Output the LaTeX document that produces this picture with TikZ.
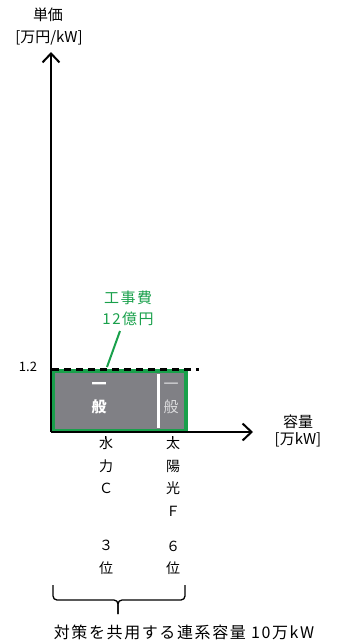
\documentclass[tikz,border=0pt]{standalone}
\usepackage{fontspec}
\setmainfont{Noto Sans CJK JP}
\newfontfamily\jpwide[LetterSpace=10]{Noto Sans CJK JP}
\usetikzlibrary{arrows.meta}
\definecolor{kojigreen}{RGB}{25,160,75}
\definecolor{blockgray}{RGB}{128,128,133}
\definecolor{palewhite}{RGB}{220,220,222}

\begin{document}
\begin{tikzpicture}[x=1pt,y=-1pt,
  lbl/.style={font=\fontsize{15}{18}\selectfont,inner sep=0pt,align=center},
  small/.style={font=\fontsize{13}{15}\selectfont,inner sep=0pt},
  col/.style={font=\jpwide\fontsize{14}{22.5}\selectfont,inner sep=0pt,align=center,anchor=north},
  axis/.style={line width=2.2pt,-{Straight Barb[length=9pt,width=17pt,line width=2pt]}},
  inblock/.style={font=\bfseries\fontsize{15}{23}\selectfont,inner sep=0pt,align=center}]

\useasboundingbox (0,0) rectangle (341,641);

\coordinate (O) at (51,432);
\coordinate (ytop) at (51,52);
\coordinate (xend) at (253,432);

% bid block
\draw[kojigreen,line width=4pt,fill=blockgray] (53,371) rectangle (186,431);
\draw[white,line width=3pt] (158,374) -- (158,428);
\draw[line width=2.5pt,dash pattern=on 7pt off 5pt] (52,369.5) -- (199,369.5);

\draw[axis] (O) -- (ytop);
\draw[axis] (O) -- (xend);
\draw[line width=0.8pt] (105,436) -- (105,439);
\draw[line width=0.8pt] (172,436) -- (172,439);

\node[lbl] (vname) at (48,15) {単価};
\node[lbl] (vunit) at (49,38) {[万円/kW]};
\node[lbl] (hname) at (298,422) {容量};
\node[lbl] (hunit) at (298,440) {[万kW]};
\node[small] (price) at (28,367) {1.2};

\node[inblock,white] (blockA) at (99,398) {一\\般};
\node[inblock,palewhite,font=\fontsize{15}{23}\selectfont] (blockB) at (171,398) {一\\般};

\node[lbl,kojigreen,font=\jpwide\fontsize{15}{21}\selectfont] (cost) at (128,308) {工事費\\12億円};
\coordinate (costend) at (107,367);
\draw[kojigreen,line width=2pt] (120,331) -- (costend);

\node[col] (hydro) at (106,437) {水\\力\\Ｃ\\[34.5pt]３\\位};
\node[col] (solar) at (173,437) {太\\陽\\光\\Ｆ\\[12.5pt]６\\位};

\coordinate (brL) at (53,585);
\coordinate (brR) at (185,585);
\coordinate (brtip) at (118,614);
\draw[line width=1.3pt,rounded corners=4pt] (brL) -- (53,600) -- (118,600) -- (brtip);
\draw[line width=1.3pt,rounded corners=4pt] (brR) -- (185,600) -- (118,600) -- (brtip);

\node[lbl,font=\jpwide\fontsize{16}{18}\selectfont] (total) at (184,632) {対策を共用する連系容量 10万kW};
\end{tikzpicture}
\end{document}
